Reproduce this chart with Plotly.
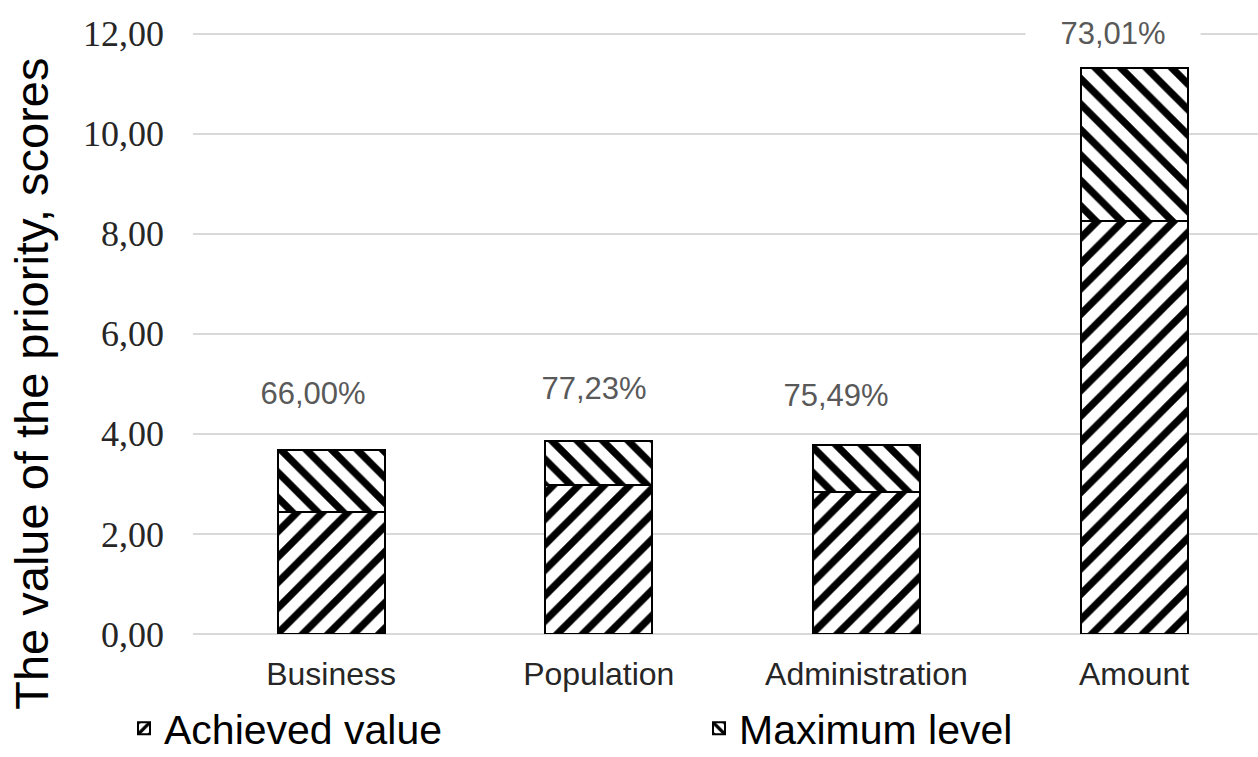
import plotly.graph_objects as go

# Priority categories and scores
categories = ["Business", "Population", "Administration", "Amount"]
maximum_level = [3.68, 3.86, 3.77, 11.31]
achieved_share = [0.6600, 0.7723, 0.7549, 0.7301]

achieved_value = [m * s for m, s in zip(maximum_level, achieved_share)]
remaining_to_max = [m - a for m, a in zip(maximum_level, achieved_value)]
share_labels = [f"{s * 100:.2f}%".replace(".", ",") for s in achieved_share]

y_ticks = [0, 2, 4, 6, 8, 10, 12]


def hatch(shape):
    return dict(color="white", line=dict(color="black", width=2),
                pattern=dict(shape=shape, fgcolor="#000000", bgcolor="white",
                             fgopacity=1, fillmode="replace",
                             size=18, solidity=0.4))


fig = go.Figure()
fig.add_trace(go.Bar(x=categories, y=achieved_value, name="Achieved value",
                     width=0.4, marker=hatch("/")))
fig.add_trace(go.Bar(x=categories, y=remaining_to_max, name="Maximum level",
                     width=0.4, marker=hatch("\\")))

# share labels above each stacked column
label_yshift = [36, 32, 29, 14]
label_xshift = [-18, -5, -30, -21]
for cat, top, txt, dy, dx in zip(categories, maximum_level, share_labels,
                                 label_yshift, label_xshift):
    fig.add_annotation(
        x=cat, y=top, text=txt, showarrow=False,
        yanchor="bottom", yshift=dy, xshift=dx,
        width=170, bgcolor="white", borderpad=2,
        font=dict(family="Liberation Sans, Arial", size=31, color="#595959"),
    )

# vertical axis title
fig.add_annotation(
    text="The value of the priority, scores",
    xref="paper", yref="paper", x=(32 - 193) / 1065, y=0.415,
    textangle=-90, showarrow=False, xanchor="center", yanchor="middle",
    font=dict(family="Liberation Sans, Arial", size=47, color="black"),
)

fig.update_layout(
    width=1258, height=757,
    barmode="stack",
    separators=", ",
    plot_bgcolor="white", paper_bgcolor="white",
    margin=dict(l=193, r=0, t=31, b=123, autoexpand=False),
    showlegend=True,
    legend=dict(
        orientation="h", traceorder="normal",
        x=(124 - 193) / 1065, xanchor="left",
        y=-0.157, yanchor="middle",
        entrywidth=530, entrywidthmode="pixels",
        font=dict(family="Liberation Sans, Arial", size=41, color="black"),
        bgcolor="rgba(0,0,0,0)",
    ),
)

fig.update_xaxes(
    range=[-0.516, 3.463],
    showgrid=False, showline=False, zeroline=False,
    ticks="", ticklabelstandoff=18,
    tickfont=dict(family="Liberation Sans, Arial", size=32, color="#262626"),
)
fig.update_yaxes(
    range=[0, 12.05], tickvals=y_ticks, tickformat=".2f",
    showgrid=True, gridcolor="#d9d9d9", gridwidth=2,
    zeroline=True, zerolinecolor="#d9d9d9", zerolinewidth=2,
    showline=False, ticks="", ticklabelstandoff=28,
    tickfont=dict(family="Liberation Serif, Times New Roman", size=36,
                  color="#262626"),
)

fig.write_html("out.html")
